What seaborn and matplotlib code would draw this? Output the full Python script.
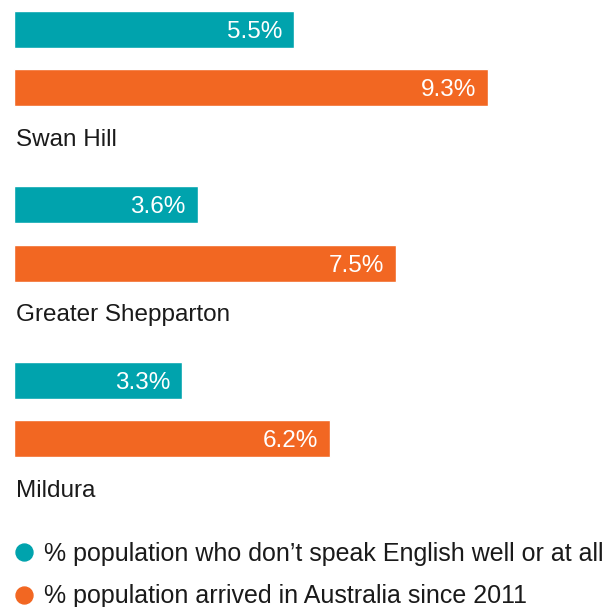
import matplotlib
matplotlib.use("Agg")
import matplotlib.pyplot as plt
from matplotlib.lines import Line2D
import seaborn as sns
import pandas as pd

regions = ["Swan Hill", "Greater Shepparton", "Mildura"]
english_poor = [5.5, 3.6, 3.3]
arrived_since_2011 = [9.3, 7.5, 6.2]
series_names = ["% population who don\u2019t speak English well or at all",
                "% population arrived in Australia since 2011"]
colors = ["#00A3AD", "#F26722"]

df = pd.DataFrame({
    "region": regions * 2,
    "value": english_poor + arrived_since_2011,
    "series": [series_names[0]] * 3 + [series_names[1]] * 3,
})

sns.set_theme(style="white")
plt.rcParams["font.family"] = ["Liberation Sans", "DejaVu Sans"]

fig = plt.figure(figsize=(6.16, 6.07), dpi=100)
ax = fig.add_axes([0, 0, 1, 1])

sns.barplot(data=df, x="value", y="region", hue="series", palette=colors,
            orient="h", width=0.663, gap=0.362, saturation=1, legend=False, ax=ax)

px = 51.0  # pixels per percent
ax.set_xlim(-14 / px, (616 - 14) / px)
ax.set_ylim(3.125, -0.333)
ax.set_axis_off()

for cont in ax.containers:
    texts = ax.bar_label(cont, labels=[f"{v.get_width():.1f}%" for v in cont],
                         padding=-8.6, color="white", fontsize=17.5)
    for t in texts:
        t.set_ha("right")
        t.set_va("center_baseline")

for i, r in enumerate(regions):
    ax.text(0.03, i + 0.464, r, ha="left", va="center", fontsize=17.5, color="#1a1a1a")

handles = [Line2D([], [], marker="o", ls="", color=c, markersize=12.2) for c in colors]
fig.legend(handles, series_names, loc="upper left", bbox_to_anchor=(11.5 / 616, 1 - 542 / 607),
           frameon=False, fontsize=18, handlelength=1.0, handletextpad=0.3,
           borderpad=0, borderaxespad=0, labelspacing=0.74, labelcolor="#1a1a1a")

fig.savefig("out.png", dpi=100)
